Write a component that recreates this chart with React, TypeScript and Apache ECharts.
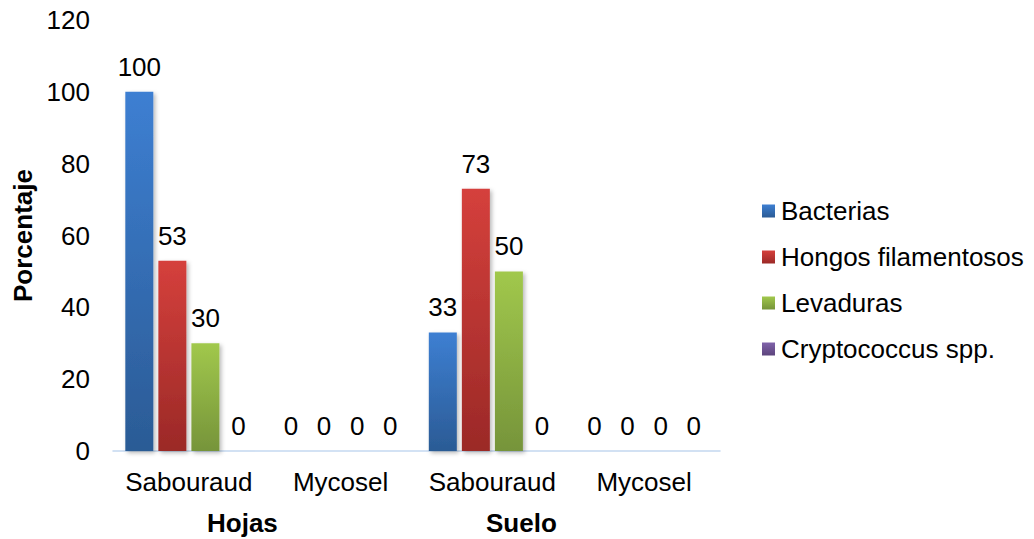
import React, { useEffect, useRef } from "react";
import * as echarts from "echarts";

// Culture media per sample source
const mediaCategories = ["Sabouraud", "Mycosel", "Sabouraud", "Mycosel"];
const sourceGroups = ["Hojas", "Suelo"];

// Percentage of isolates by organism type
const bacterias = [100, 0, 33, 0];
const hongosFilamentosos = [53, 0, 73, 0];
const levaduras = [30, 0, 50, 0];
const cryptococcus = [0, 0, 0, 0];

const seriesNames = ["Bacterias", "Hongos filamentosos", "Levaduras", "Cryptococcus spp."];
const seriesValues = [bacterias, hongosFilamentosos, levaduras, cryptococcus];
const seriesColors: [string, string][] = [
  ["#3D7FD2", "#2B5B95"],
  ["#D5403C", "#9B2927"],
  ["#A1C84C", "#76943A"],
  ["#8063AA", "#5C447C"],
];

const yTicks = { min: 0, max: 120, interval: 20 };

const FONT = "Arial, 'Liberation Sans', sans-serif";

export default function App() {
  const ref = useRef<HTMLDivElement>(null);

  useEffect(() => {
    if (!ref.current) return;
    const chart = echarts.init(ref.current, null, { renderer: "svg" });

    const series = seriesNames.map((name, i) => ({
      name,
      type: "bar" as const,
      data: seriesValues[i],
      barWidth: 28,
      barGap: "18%",
      itemStyle: {
        color: new echarts.graphic.LinearGradient(0, 0, 0, 1, [
          { offset: 0, color: seriesColors[i][0] },
          { offset: 1, color: seriesColors[i][1] },
        ]),
        shadowColor: "rgba(0,0,0,0.28)",
        shadowBlur: 4,
        shadowOffsetX: 2,
        shadowOffsetY: 2,
      },
      label: {
        show: true,
        position: "top" as const,
        distance: 12,
        color: "#000",
        fontSize: 26,
        fontFamily: FONT,
      },
    }));

    chart.setOption({
      animation: false,
      backgroundColor: "#fff",
      textStyle: { fontFamily: FONT },
      grid: {
        left: 113,
        right: 314,
        top: 20,
        bottom: 88,
        containLabel: false,
        outerBoundsMode: "none",
      },
      legend: {
        orient: "vertical",
        left: 757,
        top: 193,
        itemWidth: 13,
        itemHeight: 13,
        itemGap: 20,
        icon: "rect",
        textStyle: { fontSize: 26, color: "#000", fontFamily: FONT, padding: [0, 0, 0, 1] },
        data: seriesNames,
      },
      xAxis: {
        type: "category",
        data: mediaCategories,
        axisLine: { show: true, lineStyle: { color: "#C4D8F0", width: 1.5 } },
        axisTick: { show: false },
        axisLabel: { color: "#000", fontSize: 26, fontFamily: FONT, margin: 18, interval: 0 },
      },
      yAxis: {
        type: "value",
        min: yTicks.min,
        max: yTicks.max,
        interval: yTicks.interval,
        axisLine: { show: false },
        axisTick: { show: false },
        splitLine: { show: false },
        axisLabel: { color: "#000", fontSize: 26, fontFamily: FONT, margin: 23 },
        name: "Porcentaje",
        nameLocation: "middle",
        nameRotate: 90,
        nameGap: 72,
        nameTextStyle: { color: "#000", fontSize: 26, fontWeight: "bold", fontFamily: FONT },
      },
      graphic: [
        {
          type: "text",
          left: 242 - 35,
          top: 510,
          style: { text: sourceGroups[0], fontSize: 26, fontWeight: "bold", fill: "#000", fontFamily: FONT },
        },
        {
          type: "text",
          left: 522 - 36,
          top: 510,
          style: { text: sourceGroups[1], fontSize: 26, fontWeight: "bold", fill: "#000", fontFamily: FONT },
        },
      ],
      series,
    });

    return () => chart.dispose();
  }, []);

  return <div ref={ref} style={{ width: 1034, height: 539, position: "absolute", left: 0, top: 0 }} />;
}
